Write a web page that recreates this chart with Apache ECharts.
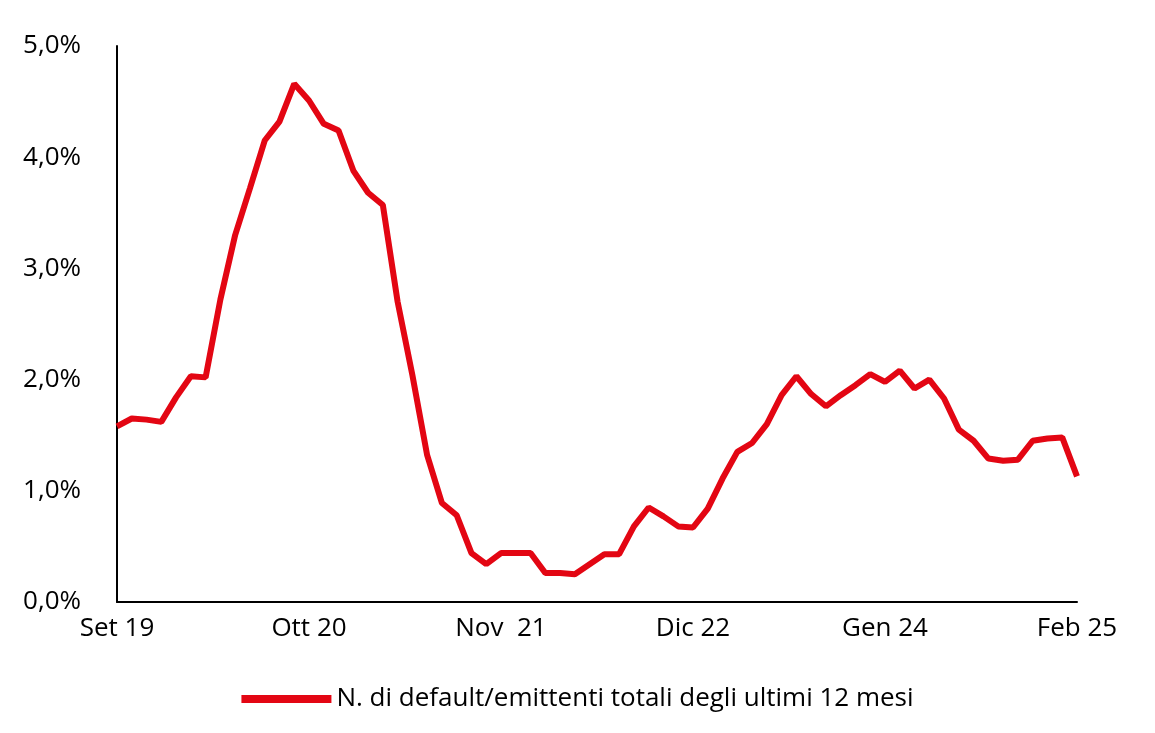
<!DOCTYPE html>
<html><head><meta charset="utf-8">
<script src="https://cdn.jsdelivr.net/npm/echarts@6/dist/echarts.min.js"></script>
<style>html,body{margin:0;padding:0;background:#fff}#main{width:1155px;height:733px}</style>
</head><body><div id="main"></div>
<script>
var monthNames = ['Gen', 'Feb', 'Mar', 'Apr', 'Mag', 'Giu', 'Lug', 'Ago', 'Set', 'Ott', 'Nov', 'Dic'];
var categories = [];
for (var y = 2019; y <= 2025; y++) {
    for (var m = 0; m < 12; m++) {
        if ((y === 2019 && m < 8) || (y === 2025 && m > 1)) continue;
        categories.push(monthNames[m] + ' ' + String(y).slice(2));
    }
}
var tickIndexes = [0, 13, 26, 39, 52, 65];
var defaultRate = [
    1.58, 1.65, 1.64, 1.62, 1.84, 2.03, 2.02, 2.72, 3.30, 3.72,
    4.15, 4.32, 4.66, 4.51, 4.30, 4.24, 3.88, 3.68, 3.57, 2.70,
    2.04, 1.32, 0.89, 0.78, 0.44, 0.34, 0.44, 0.44, 0.44, 0.26,
    0.26, 0.25, 0.34, 0.43, 0.43, 0.68, 0.85, 0.77, 0.68, 0.67,
    0.84, 1.11, 1.35, 1.43, 1.60, 1.86, 2.03, 1.87, 1.76, 1.86,
    1.95, 2.05, 1.98, 2.08, 1.92, 2.00, 1.83, 1.55, 1.45, 1.29,
    1.27, 1.28, 1.45, 1.47, 1.48, 1.13
];
var seriesName = 'N. di default/emittenti totali degli ultimi 12 mesi';

var myChart = echarts.init(document.getElementById('main'));
var font = 'Open Sans';
var option = {
    animation: false,
    grid: { left: 117, right: 78, top: 46, bottom: 131 },
    legend: {
        bottom: 16,
        left: 'center',
        itemWidth: 90,
        itemHeight: 8,
        textStyle: { fontFamily: font, fontSize: 26, color: '#000' },
        data: [{ name: seriesName, icon: 'rect' }]
    },
    xAxis: {
        type: 'category',
        boundaryGap: false,
        data: categories,
        axisLine: { lineStyle: { color: '#000', width: 2 } },
        axisTick: { show: false },
        axisLabel: {
            interval: function (i) { return tickIndexes.indexOf(i) >= 0; },
            formatter: function (v) { return v === 'Nov 21' ? 'Nov  21' : v; },
            fontFamily: font, fontSize: 26, color: '#000', margin: 14
        }
    },
    yAxis: {
        type: 'value',
        min: 0, max: 5, interval: 1,
        axisLine: { show: true, lineStyle: { color: '#000', width: 2 } },
        axisTick: { show: false },
        splitLine: { show: false },
        axisLabel: {
            formatter: function (v) { return v.toFixed(1).replace('.', ',') + '%'; },
            fontFamily: font, fontSize: 26, color: '#000', margin: 36
        }
    },
    series: [{
        name: seriesName,
        type: 'line',
        data: defaultRate,
        symbol: 'none',
        lineStyle: { color: '#E30613', width: 6 },
        itemStyle: { color: '#E30613' }
    }]
};
myChart.setOption(option);
</script></body></html>
